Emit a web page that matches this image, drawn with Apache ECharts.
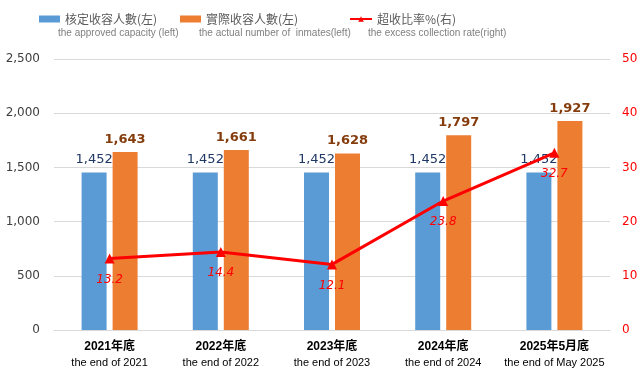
<!DOCTYPE html>
<html><head><meta charset="utf-8">
<script src="https://cdn.jsdelivr.net/npm/echarts@6/dist/echarts.min.js"></script>
<style>html,body{margin:0;padding:0;background:#fff}#c{width:644px;height:378px}</style>
</head><body><div id="c"></div>
<script>
const categoriesZh = ['2021年底','2022年底','2023年底','2024年底','2025年5月底'];
const categoriesEn = ['the end of 2021','the end of 2022','the end of 2023','the end of 2024','the end of May 2025'];
const approved = [1452,1452,1452,1452,1452];
const actual = [1643,1661,1628,1797,1927];
const rate = [13.2,14.4,12.1,23.8,32.7];
const seriesNames = ['核定收容人數(左)','實際收容人數(左)','超收比率%(右)'];
const seriesNamesEn = ['the approved capacity (left)','the actual number of  inmates(left)','the excess collection rate(right)'];
const leftTicks = [0,500,1000,1500,2000,2500];
const rightTicks = [0,10,20,30,40,50];

const chart = echarts.init(document.getElementById('c'));
const font = 'DejaVu Sans, Verdana, sans-serif';
const legendX = [34,175,344];
function mkLegend(i){
  return {show:true, data:[{name:seriesNames[i], icon: i<2?'rect':undefined}], left:legendX[i], top:8, itemWidth:21, itemHeight:7, itemGap:4,
    textStyle:{fontSize:12, color:'#595959', fontFamily:'Noto Sans CJK TC, sans-serif'}, selectedMode:false};
}
chart.setOption({
  animation:false,
  textStyle:{fontFamily:font},
  legend:[mkLegend(0), mkLegend(1), Object.assign(mkLegend(2),{itemWidth:22})],
  graphic: seriesNamesEn.map((t,i)=>({type:'text', left:legendX[i]+24, top:28, style:{text:t, fontSize:10, fill:'#808080', fontFamily:'Liberation Sans, Arial, sans-serif'}})),
  grid:{left:54, right:34, top:59, bottom:48},
  xAxis:{type:'category', data:categoriesZh.map((z,i)=>z+'\n'+categoriesEn[i]),
    axisTick:{show:false}, axisLine:{lineStyle:{color:'#d9d9d9'}},
    axisLabel:{interval:0, margin:9, color:'#000',
      formatter:(v,i)=>'{a|'+categoriesZh[i]+'}\n{b|'+categoriesEn[i]+'}',
      rich:{a:{fontSize:12, fontWeight:'bold', lineHeight:16, fontFamily:'Liberation Sans, Noto Sans CJK TC, sans-serif', color:'#000'},
            b:{fontSize:11, lineHeight:16, fontFamily:'Liberation Sans, Arial, sans-serif', color:'#000'}}}},
  yAxis:[
    {type:'value', min:leftTicks[0], max:leftTicks[leftTicks.length-1], interval:500,
     axisLabel:{color:'#404040', fontSize:12, margin:14, formatter:v=>v.toLocaleString('en-US')},
     splitLine:{lineStyle:{color:'#d9d9d9'}}, axisLine:{show:false}, axisTick:{show:false}},
    {type:'value', min:rightTicks[0], max:rightTicks[rightTicks.length-1], interval:10,
     axisLabel:{color:'#ff0000', fontSize:12, margin:12}, splitLine:{show:false}, axisLine:{show:false}, axisTick:{show:false}}
  ],
  series:[
    {name:seriesNames[0], type:'bar', data:approved, barWidth:25, barGap:'24%', itemStyle:{color:'#5b9bd5'},
     label:{show:true, position:'top', distance:6, color:'#1f3864', fontSize:13, formatter:p=>p.value.toLocaleString('en-US')}},
    {name:seriesNames[1], type:'bar', data:actual, barWidth:25, itemStyle:{color:'#ed7d31'},
     label:{show:true, position:'top', distance:6, color:'#843c0c', fontSize:13, fontWeight:'bold', formatter:p=>p.value.toLocaleString('en-US')}},
    {name:seriesNames[2], type:'line', yAxisIndex:1, data:rate, symbol:'triangle', symbolSize:10,
     lineStyle:{color:'#ff0000', width:3}, itemStyle:{color:'#ff0000'},
     label:{show:true, position:'bottom', distance:10, color:'#ff0000', fontSize:12, fontStyle:'italic'}}
  ]
});
</script></body></html>
